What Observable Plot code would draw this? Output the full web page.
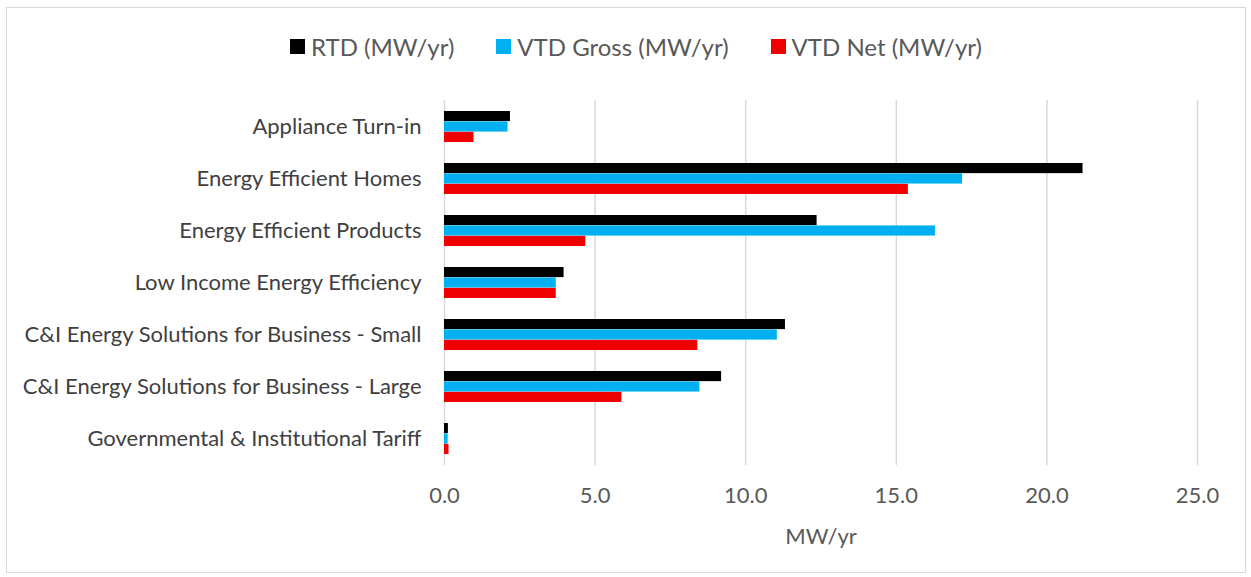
<!DOCTYPE html>
<html>
<head>
<meta charset="utf-8">
<script src="https://cdn.jsdelivr.net/npm/d3@7"></script>
<script src="https://cdn.jsdelivr.net/npm/@observablehq/plot@0.6"></script>
<style>
  html, body { margin: 0; padding: 0; background: #fff; }
  #wrap { position: relative; width: 1251px; height: 577px; overflow: hidden; font-family: Lato, "Open Sans", sans-serif; }
  #frame { position: absolute; left: 6px; top: 7px; width: 1240px; height: 566px; border: 1.5px solid #d9d9d9; box-sizing: border-box; pointer-events: none; }
  #legend { position: absolute; left: 290px; top: 32px; display: flex; align-items: center; font-size: 24px; color: #595959; white-space: nowrap; }
  .item { display: flex; align-items: center; margin-right: 42px; }
  .sw { width: 15px; height: 15px; margin-right: 6px; }
  #chart { position: absolute; left: 0; top: 0; }
</style>
</head>
<body>
<div id="wrap">
  <div id="frame"></div>
  <div id="legend"></div>
  <div id="chart"></div>
</div>
<script>
const categories = [
  "Appliance Turn-in",
  "Energy Efficient Homes",
  "Energy Efficient Products",
  "Low Income Energy Efficiency",
  "C&I Energy Solutions for Business - Small",
  "C&I Energy Solutions for Business - Large",
  "Governmental & Institutional Tariff"
];
const rtd      = [2.19, 21.2, 12.37, 3.97, 11.32, 9.2, 0.13];
const vtdGross = [2.11, 17.2, 16.3, 3.71, 11.05, 8.48, 0.12];
const vtdNet   = [0.98, 15.4, 4.69, 3.71, 8.41, 5.89, 0.15];
const seriesNames = ["RTD (MW/yr)", "VTD Gross (MW/yr)", "VTD Net (MW/yr)"];
const seriesColors = ["#000000", "#00b0f0", "#ee0000"];
const xTicks = [0, 5, 10, 15, 20, 25];
const xLabel = "MW/yr";

const seriesValues = [rtd, vtdGross, vtdNet];

// legend
const legend = document.getElementById("legend");
seriesNames.forEach((name, i) => {
  const it = document.createElement("div");
  it.className = "item";
  const sw = document.createElement("div");
  sw.className = "sw";
  sw.style.background = seriesColors[i];
  const tx = document.createElement("span");
  tx.textContent = name;
  it.appendChild(sw); it.appendChild(tx);
  legend.appendChild(it);
});

const W = 1251, H = 577, mt = 100, mb = 112, ml = 444, mr = 54;
const padInner = 0.4;
const step = (H - mt - mb) / categories.length;
const bw = step * (1 - padInner);

const barMarks = seriesValues.map((vals, i) => {
  const rows = categories.map((c, j) => ({category: c, value: vals[j]}));
  return Plot.barX(rows, {
    x: "value",
    y: "category",
    fill: seriesColors[i],
    insetTop: bw * i / 3,
    insetBottom: bw * (2 - i) / 3
  });
});

const chart = Plot.plot({
  width: W,
  height: H,
  marginTop: mt,
  marginBottom: mb,
  marginLeft: ml,
  marginRight: mr,
  style: {fontFamily: "Lato, 'Open Sans', sans-serif", background: "transparent"},
  x: {domain: [0, 25]},
  y: {domain: categories, paddingInner: padInner, paddingOuter: padInner / 2},
  marks: [
    Plot.gridX(xTicks, {stroke: "#d9d9d9", strokeOpacity: 1, strokeWidth: 1.5}),
    ...barMarks,
    Plot.axisX({
      ticks: xTicks,
      tickFormat: d3.format(".1f"),
      tickSize: 0,
      tickPadding: 22,
      fontSize: 22,
      fill: "#595959",
      label: xLabel,
      labelAnchor: "center",
      labelArrow: "none",
      labelOffset: 78
    }),
    Plot.axisY({
      tickSize: 0,
      tickPadding: 23,
      fontSize: 22,
      fill: "#404040",
      label: null
    })
  ]
});
document.getElementById("chart").appendChild(chart);
</script>
</body>
</html>
